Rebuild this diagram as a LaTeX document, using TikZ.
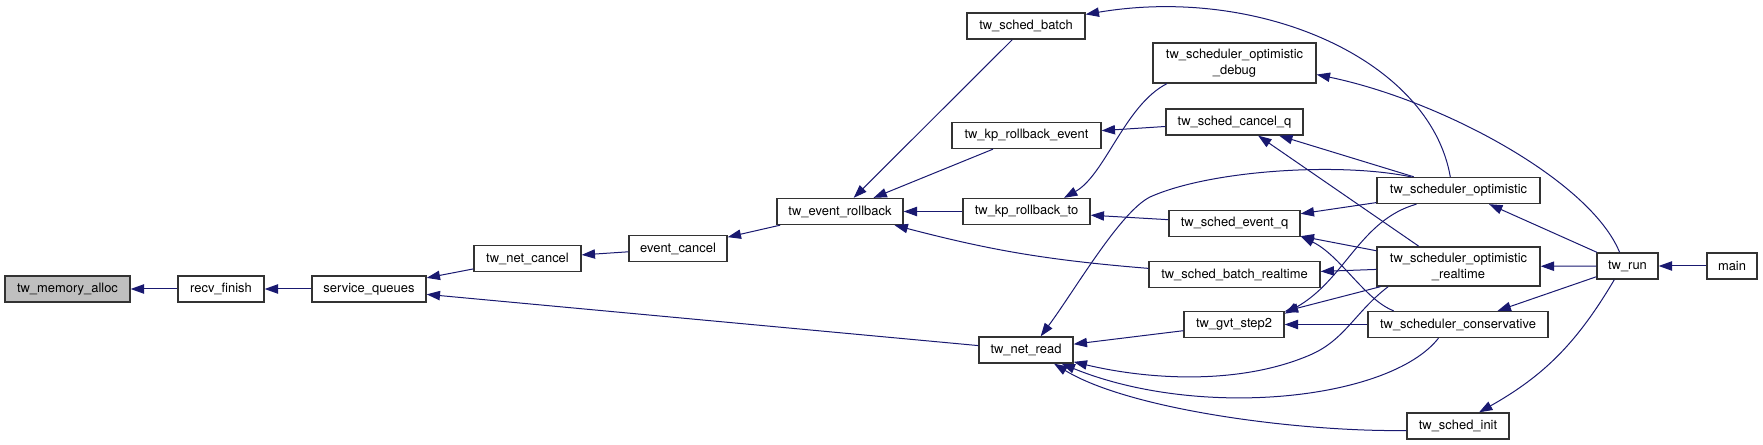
\documentclass[tikz,border=0pt]{standalone}
\usepackage{fontspec}
\setmainfont{TeX Gyre Heros}
\usepackage{xcolor}
\usepackage{tikz}
\usetikzlibrary{arrows.meta}
\definecolor{edgeblue}{HTML}{191970}

\begin{document}
\begin{tikzpicture}[x=0.75pt, y=-0.75pt,
  every node/.style={font=\fontsize{9.7}{12}\selectfont},
  fn/.style={rectangle, draw=black!80, line width=1pt, fill=white, inner sep=0pt, align=center},
  call/.style={draw=edgeblue, line width=0.75pt, -{Triangle[length=10pt,width=7pt,fill=edgeblue]}}]
\useasboundingbox (0,0) rectangle (1763,445);
\node[fn, fill=black!25, minimum width=93.75pt, minimum height=19.5pt] (alloc) at (67.5,289) {tw\_memory\_alloc};
\foreach \name/\x/\y/\w/\txt in {recv/221/289/64.5/{recv\_finish},
    squeues/369/289/85.5/{service\_queues},
    netcancel/527.5/258.5/80.25/{tw\_net\_cancel},
    evcancel/678/248.5/73.5/{event\_cancel},
    evrollback/840/211.5/94.5/{tw\_event\_rollback},
    netread/1026/350/70.5/{tw\_net\_read},
    schedbatch/1026/26/88.5/{tw\_sched\_batch},
    kprbevent/1026.5/135.5/111.75/{tw\_kp\_rollback\_event},
    kprbto/1026.5/211.5/95.25/{tw\_kp\_rollback\_to},
    cancelq/1234.5/122/102.75/{tw\_sched\_cancel\_q},
    eventq/1234.5/223.5/98.25/{tw\_sched\_event\_q},
    batchrt/1234.5/274.5/128.25/{tw\_sched\_batch\_realtime},
    gvt/1234/324.5/75/{tw\_gvt\_step2},
    optim/1458.5/190.5/122.25/{tw\_scheduler\_optimistic},
    conserv/1458/324.5/135/{tw\_scheduler\_conservative},
    schedinit/1458/426/76.5/{tw\_sched\_init},
    twrun/1627.5/266/45.75/{tw\_run},
    main/1732/266/37.5/{main}} {
  \node[fn, minimum width=\w pt, minimum height=19.5pt] (\name) at (\x,\y) {\txt};
}
\node[fn, minimum width=122.25pt, minimum height=30pt] (debug) at (1234.5,63) {tw\_scheduler\_optimistic\\\_debug};
\node[fn, minimum width=122.25pt, minimum height=29.25pt] (optimrt) at (1458.5,266.5) {tw\_scheduler\_optimistic\\\_realtime};

\draw[call] (recv) -- (alloc);
\draw[call] (squeues) -- (recv);
\draw[call] (netcancel) -- (squeues);
\draw[call] (netread) -- (squeues);
\draw[call] (evcancel) -- (netcancel);
\draw[call] (evrollback) -- (evcancel);
\draw[call] (schedbatch) -- (evrollback);
\draw[call] (kprbevent) -- (evrollback);
\draw[call] (kprbto) -- (evrollback);
\draw[call] (batchrt) to[bend left=5] (evrollback);
\draw[call] (debug.197) .. controls (1125,105) and (1105,175) .. (kprbto.20);
\draw[call] (cancelq) -- (kprbevent);
\draw[call] (eventq) -- (kprbto);
\draw[call] (optim.121) .. controls (1430,60) and (1260,-15) .. (schedbatch.11);
\draw[call] (optim) -- (cancelq);
\draw[call] (optim) -- (eventq);
\draw[call] (optim.164) .. controls (1340,162) and (1210,170) .. (1150,197)
  .. controls (1120,212) and (1075,290) .. (netread.43);
\draw[call] (optimrt.153) -- (cancelq.-30);
\draw[call] (optimrt) -- (eventq);
\draw[call] (optimrt) -- (batchrt);
\draw[call] (optimrt) -- (gvt);
\draw[call] (optim.198) .. controls (1360,220) and (1345,280) .. (gvt.12);
\draw[call] (conserv) -- (gvt);
\draw[call] (conserv.168) .. controls (1365,300) and (1340,255) .. (eventq.-11);
\draw[call] (optimrt.196) .. controls (1355,312) and (1345,340) .. (1310,355)
  .. controls (1240,385) and (1150,380) .. (netread.-14);
\draw[call] (gvt) -- (netread);
\draw[call] (conserv.215) .. controls (1390,400) and (1200,420) .. (netread.-21);
\draw[call] (schedinit.185) .. controls (1300,432) and (1130,410) .. (netread.-26);
\draw[call] (twrun) -- (optim);
\draw[call] (twrun) -- (optimrt);
\draw[call] (twrun) -- (conserv);
\draw[call] (twrun.226) to[bend left=15] (schedinit.33);
\draw[call] (twrun.120) .. controls (1590,180) and (1440,100) .. (debug.-8);
\draw[call] (main) -- (twrun);
\end{tikzpicture}
\end{document}
